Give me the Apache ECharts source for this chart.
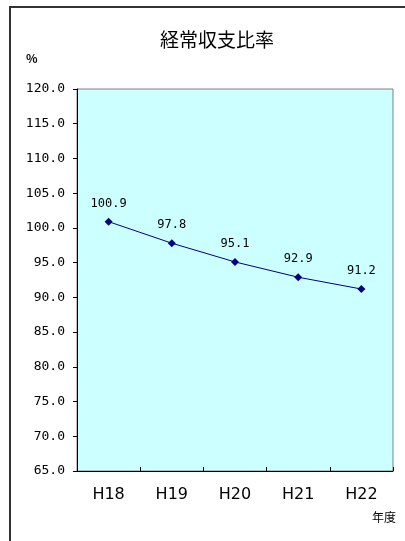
<!DOCTYPE html>
<html><head><meta charset="utf-8">
<script src="https://cdn.jsdelivr.net/npm/echarts@6/dist/echarts.min.js"></script>
<style>html,body{margin:0;padding:0;background:#fff}#c{width:405px;height:541px}</style>
</head><body><div id="c"></div>
<script>
const titleText = '経常収支比率';
const categories = ['H18','H19','H20','H21','H22'];
const values = [100.9, 97.8, 95.1, 92.9, 91.2];
const yMin = 65, yMax = 120, yStep = 5;

const chart = echarts.init(document.getElementById('c'), null, {renderer:'canvas'});
chart.setOption({
  animation: false,
  backgroundColor: '#fff',
  title: {text: titleText, left: 212, top: 25, textAlign: 'center',
    textStyle: {fontFamily: 'Noto Sans CJK JP', fontSize: 19, fontWeight: 'normal', color: '#000'}},
  graphic: [
    {type:'rect', shape:{x:10, y:7, width:440, height:580}, style:{fill:'none', stroke:'#333', lineWidth:2}, z:-1},
    {type:'text', left: 26, top: 52, style:{text:'%', font:'bold 12px "Noto Sans CJK JP"', fill:'#000'}},
    {type:'text', left: 372, top: 511, style:{text:'年度', font:'12px "Noto Sans CJK JP"', fill:'#000'}}
  ],
  grid: {left: 77, right: 12, top: 89, bottom: 70, show: true, backgroundColor: '#CCFFFF', borderColor: '#808080', borderWidth: 1},
  xAxis: {type: 'category', data: categories, boundaryGap: true,
    axisLine: {lineStyle: {color: '#000', width: 1}},
    axisTick: {show: true, inside: true, length: 4, lineStyle: {color: '#000'}},
    axisLabel: {fontFamily: 'DejaVu Sans', fontSize: 16, color: '#000', margin: 16}},
  yAxis: {type: 'value', min: yMin, max: yMax, interval: yStep,
    splitLine: {show: false},
    axisLine: {show: true, lineStyle: {color: '#000', width: 1}},
    axisTick: {show: true, inside: false, length: 4, lineStyle: {color: '#000'}},
    axisLabel: {fontFamily: 'DejaVu Sans Mono', fontSize: 13, color: '#000', margin: 12,
      formatter: v => v.toFixed(1)}},
  series: [{type: 'line', data: values, symbol: 'diamond', symbolSize: 8,
    lineStyle: {color: '#000080', width: 1}, itemStyle: {color: '#000080'},
    label: {show: true, position: 'top', distance: 8, formatter: p => p.value.toFixed(1),
      fontFamily: 'DejaVu Sans Mono', fontSize: 12, color: '#000'}}]
});
</script></body></html>
